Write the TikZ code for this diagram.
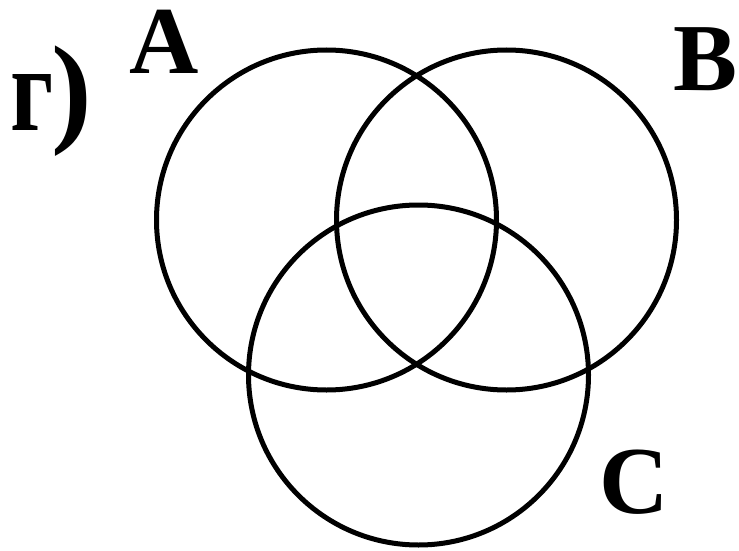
\documentclass[tikz,border=0pt]{standalone}
\usepackage{fontspec}
\setmainfont{Liberation Serif}
\usepackage{graphicx}
\usepackage{tikz}
\usetikzlibrary{positioning}
\tikzset{
  setcircle/.style={circle, draw=black, line width=5pt, minimum size=340pt, inner sep=0pt},
  setlabel/.style={font=\fontsize{96}{100}\selectfont\bfseries, inner sep=0pt, anchor=base west},
  partlabel/.style={setlabel, font=\fontsize{122}{126}\selectfont\bfseries},
}
\begin{document}
\begin{tikzpicture}[x=1pt, y=-1pt]
\useasboundingbox (0,0) rectangle (739,551);
\node[setcircle] (circA) at (326.5,220) {};
\node[setcircle] (circB) at (506.5,220) {};
\node[setcircle] (circC) at (418.5,375) {};

\node[setlabel] (labA) at (129,74) {A};
\node[setlabel] (labB) at (673,90) {B};
\node[setlabel] (labC) at (599,513) {C};
\node[partlabel] (part) at (10,130) {\scalebox{0.78}[1]{г}\kern-2pt)};
\end{tikzpicture}
\end{document}
